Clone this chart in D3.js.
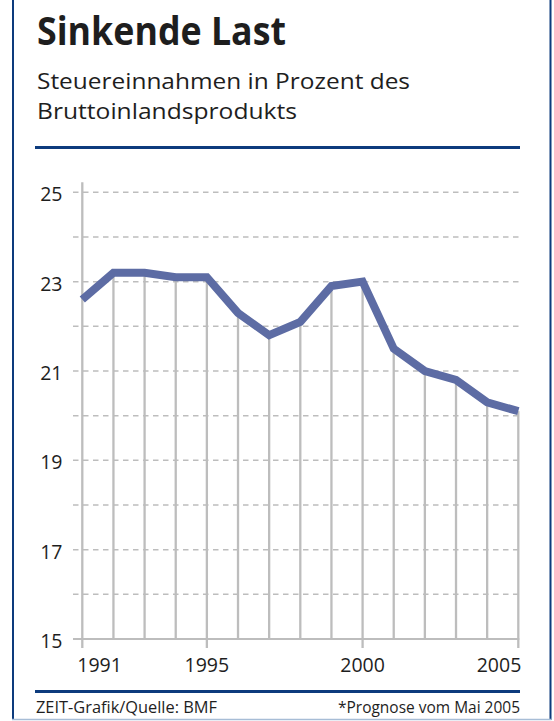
<!DOCTYPE html>
<html>
<head>
<meta charset="utf-8">
<script src="https://cdn.jsdelivr.net/npm/d3@7"></script>
<style>
  html, body { margin: 0; padding: 0; background: #fff; }
  svg { display: block; }
  text { font-family: "Open Sans", "Noto Sans", sans-serif; fill: #1e1e1e; }
</style>
</head>
<body>
<svg id="chart" width="554" height="721"></svg>
<script>
// ---- data ----
const years = [1991, 1992, 1993, 1994, 1995, 1996, 1997, 1998, 1999, 2000, 2001, 2002, 2003, 2004, 2005];
const taxShare = [22.6, 23.2, 23.2, 23.1, 23.1, 22.3, 21.8, 22.1, 22.9, 23.0, 21.5, 21.0, 20.8, 20.3, 20.1];
const yTickLabels = [15, 17, 19, 21, 23, 25];
const yGridValues = [16, 17, 18, 19, 20, 21, 22, 23, 24, 25];
const xTickLabels = [1991, 1995, 2000, 2005];
const titleText = "Sinkende Last";
const subtitleLines = ["Steuereinnahmen in Prozent des", "Bruttoinlandsprodukts"];
const sourceText = "ZEIT-Grafik/Quelle: BMF";
const noteText = "*Prognose vom Mai 2005";

const svg = d3.select("#chart");
const navy = "#0d3b7d";
const gridGray = "#bdbdbd";
const lineBlue = "#5d6ca4";

function fit(sel, target) {
  const w = sel.node().getComputedTextLength();
  if (Math.abs(w - target) / target > 0.02) {
    sel.attr("textLength", target).attr("lengthAdjust", "spacingAndGlyphs");
  }
  return sel;
}

// frame
svg.append("line").attr("x1", 13).attr("x2", 13).attr("y1", 0).attr("y2", 720)
  .attr("stroke", navy).attr("stroke-width", 2);
svg.append("line").attr("x1", 550.5).attr("x2", 550.5).attr("y1", 0).attr("y2", 720)
  .attr("stroke", navy).attr("stroke-width", 2);
svg.append("line").attr("x1", 12).attr("x2", 551.5).attr("y1", 719.5).attr("y2", 719.5)
  .attr("stroke", "#a7bdd6").attr("stroke-width", 1.5);

// title
fit(svg.append("text").attr("x", 37).attr("y", 45)
  .attr("font-size", 40).attr("font-weight", 700).text(titleText), 249);

// subtitle
subtitleLines.forEach((t, i) => {
  const s = svg.append("text").attr("x", 37).attr("y", 89 + i * 29.5)
    .attr("font-size", 22.5).attr("fill", "#262626").text(t);
  fit(s, i === 0 ? 373 : 260);
});

// rules
svg.append("line").attr("x1", 35).attr("x2", 520).attr("y1", 147.5).attr("y2", 147.5)
  .attr("stroke", navy).attr("stroke-width", 3);
svg.append("line").attr("x1", 35).attr("x2", 520).attr("y1", 691.5).attr("y2", 691.5)
  .attr("stroke", navy).attr("stroke-width", 3);

// footer
fit(svg.append("text").attr("x", 36).attr("y", 712.5).attr("font-size", 16).text(sourceText), 181);
fit(svg.append("text").attr("x", 520).attr("y", 712.5).attr("text-anchor", "end")
  .attr("font-size", 16).text(noteText), 182);

// scales
const x = d3.scaleLinear().domain([1991, 2005]).range([82.3, 518.3]);
const y = d3.scaleLinear().domain([15, 25]).range([639, 192.3]);

// horizontal dashed grid
svg.append("g").selectAll("line").data(yGridValues).join("line")
  .attr("x1", 73).attr("x2", x(2005) + 1)
  .attr("y1", d => y(d)).attr("y2", d => y(d))
  .attr("stroke", gridGray).attr("stroke-width", 1.5)
  .attr("stroke-dasharray", "5.5,4.5");

// baseline
svg.append("line").attr("x1", 73).attr("x2", x(2005) + 1)
  .attr("y1", y(15)).attr("y2", y(15))
  .attr("stroke", gridGray).attr("stroke-width", 2.2);

// y axis line (1991)
svg.append("line").attr("x1", x(1991)).attr("x2", x(1991))
  .attr("y1", y(25) - 10).attr("y2", y(15) + 9)
  .attr("stroke", gridGray).attr("stroke-width", 2.3);

// drop lines
svg.append("g").selectAll("line").data(years.slice(1).map((yr, i) => ({yr, v: taxShare[i + 1]})))
  .join("line")
  .attr("x1", d => x(d.yr)).attr("x2", d => x(d.yr))
  .attr("y1", d => y(d.v))
  .attr("y2", d => xTickLabels.includes(d.yr) ? y(15) + 9 : y(15))
  .attr("stroke", gridGray).attr("stroke-width", 2.3);

// y tick labels
svg.append("g").selectAll("text").data(yTickLabels).join("text")
  .attr("x", 62.5).attr("y", d => y(d) + 9)
  .attr("text-anchor", "end").attr("font-size", 19.5).text(d => d);

// x tick labels
svg.append("g").selectAll("text").data(xTickLabels).join("text")
  .attr("x", (d, i) => i === 0 ? x(d) - 5 : (i === xTickLabels.length - 1 ? x(d) + 3 : x(d)))
  .attr("y", y(15) + 33)
  .attr("text-anchor", (d, i) => i === 0 ? "start" : (i === xTickLabels.length - 1 ? "end" : "middle"))
  .attr("font-size", 19.5).text(d => d);

// data line
const line = d3.line().x((d, i) => x(years[i])).y(d => y(d));
svg.append("path").datum(taxShare)
  .attr("d", line)
  .attr("fill", "none").attr("stroke", lineBlue).attr("stroke-width", 8)
  .attr("stroke-linejoin", "miter").attr("stroke-linecap", "butt");
</script>
</body>
</html>
